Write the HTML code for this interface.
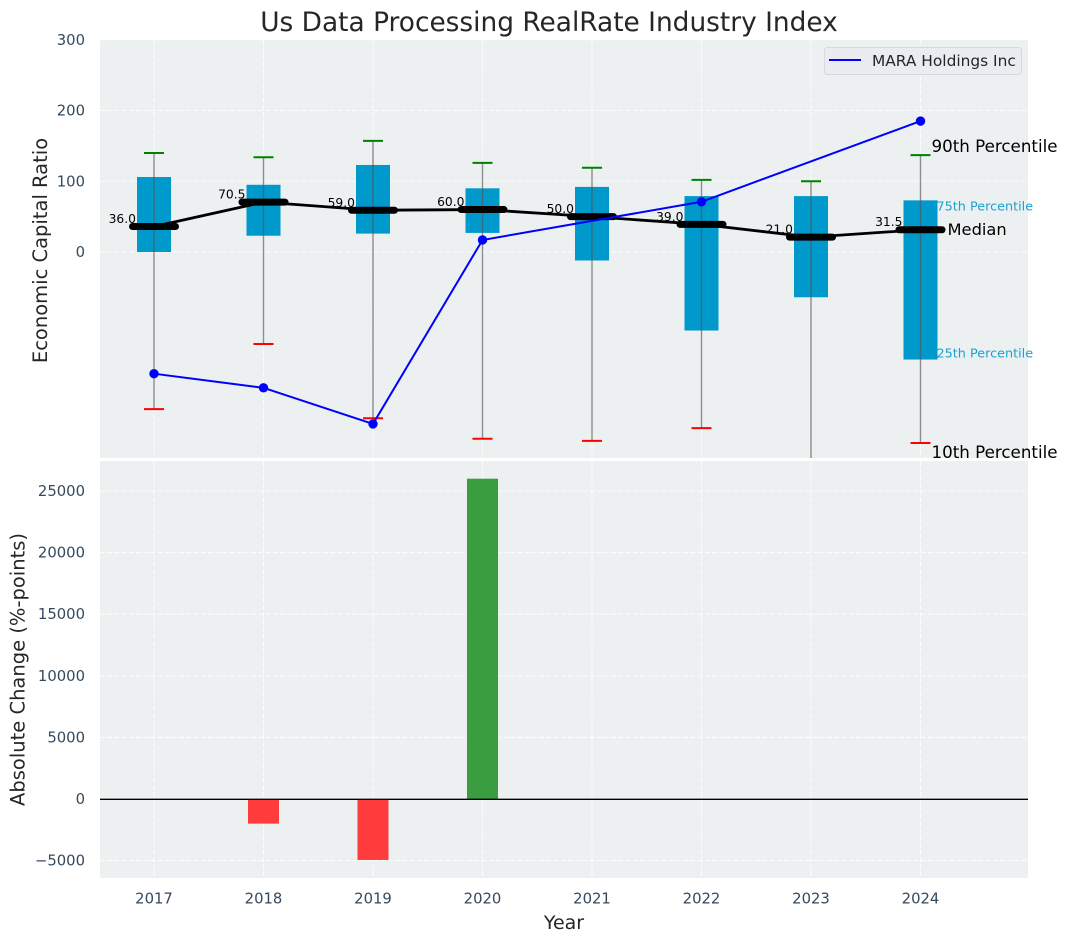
<!DOCTYPE html>
<html>
<head>
<meta charset="utf-8">
<title>Us Data Processing RealRate Industry Index</title>
<style>
html,body{margin:0;padding:0;background:#fff;}
svg{display:block;font-family:"DejaVu Sans","Liberation Sans",sans-serif;}
</style>
</head>
<body>
<svg id="chart" xmlns="http://www.w3.org/2000/svg" width="1067" height="942" viewBox="0 0 1067 942">
  <defs><clipPath id="top-clip"><rect x="100" y="40" width="928" height="418"></rect></clipPath></defs>
</svg>
<script>
const years = [2017, 2018, 2019, 2020, 2021, 2022, 2023, 2024];
const p90 = [140, 134, 157, 126, 119, 102, 100, 137];
const p75 = [106, 95, 123, 90, 92, 79, 79, 73];
const medians = [36, 70.5, 59, 60, 50, 39, 21, 31.5];
const p25 = [0, 23, 26, 27, -12, -111, -64, -152];
const p10 = [-222, -130, -235, -264, -267, -249, -330, -270];
const company = [-172, -192, -243, 17, null, 71, null, 185];
const changes = [null, -2000, -4950, 26000, null, null, null, null];
const topTicks = [0, 100, 200, 300];
const bottomTicks = [-5000, 0, 5000, 10000, 15000, 20000, 25000];

const svg = document.getElementById('chart');
const NS = 'http://www.w3.org/2000/svg';
const xPos = yr => 154 + (yr - 2017) * 109.5;
const yTop = v => 252 - v * 0.7075;
const yBottom = v => 799 - v * 0.01232;

function make(tag, attrs, parent) {
  const el = document.createElementNS(NS, tag);
  for (const k in attrs) el.setAttribute(k, attrs[k]);
  (parent || svg).appendChild(el);
  return el;
}
function label(str, attrs, parent) {
  const el = make('text', attrs, parent);
  el.textContent = str;
  return el;
}

// axes backgrounds
const topBg = make('rect', {x: 100, y: 40, width: 928, height: 418, fill: '#ecf0f1'});


const bottomBg = make('rect', {x: 100, y: 461, width: 928, height: 417, fill: '#ecf0f1'});



// grid
const gridStyle = {stroke: '#ffffff', 'stroke-width': 1.1, 'stroke-dasharray': '5 2.2', 'stroke-opacity': 0.8};
years.forEach(yr => {
  const g1 = make('line', Object.assign({x1: xPos(yr), x2: xPos(yr), y1: 40, y2: 458}, gridStyle));
  
  
  const g2 = make('line', Object.assign({x1: xPos(yr), x2: xPos(yr), y1: 461, y2: 878}, gridStyle));
  
  
});
topTicks.forEach(t => {
  const g = make('line', Object.assign({x1: 100, x2: 1028, y1: yTop(t), y2: yTop(t)}, gridStyle));
  
  
  const lab = label(String(t), {x: 85, y: yTop(t) + 5, 'text-anchor': 'end', 'font-size': 14.8, fill: '#34495e'});
  
  
});
bottomTicks.forEach(t => {
  const g = make('line', Object.assign({x1: 100, x2: 1028, y1: yBottom(t), y2: yBottom(t)}, gridStyle));
  
  
  const lab = label(String(t).replace('-', '\u2212'), {x: 85, y: yBottom(t) + 5, 'text-anchor': 'end', 'font-size': 14.8, fill: '#34495e'});
  
  
});
years.forEach(yr => {
  const lab = label(String(yr), {x: xPos(yr), y: 903.5, 'text-anchor': 'middle', 'font-size': 14.8, fill: '#34495e'});
  
  
});

// top chart marks, clipped to the axes
const plot = make('g', {'clip-path': 'url(#top-clip)'});



years.forEach((yr, i) => {
  const x = xPos(yr);
  const box = make('rect', {x: x - 17, y: yTop(p75[i]), width: 34, height: yTop(p25[i]) - yTop(p75[i]), fill: '#0099cc', 'fill-opacity': 1}, plot);
  
  
  const whisker = make('line', {x1: x, x2: x, y1: yTop(p90[i]), y2: yTop(p10[i]), stroke: '#555555', 'stroke-opacity': 0.65, 'stroke-width': 1.4}, plot);
  
  
  const capHigh = make('line', {x1: x - 10, x2: x + 10, y1: yTop(p90[i]), y2: yTop(p90[i]), stroke: '#008000', 'stroke-width': 2}, plot);
  
  
  const capLow = make('line', {x1: x - 10, x2: x + 10, y1: yTop(p10[i]), y2: yTop(p10[i]), stroke: '#ff0000', 'stroke-width': 2}, plot);
  
  
});

const medianPath = make('polyline', {
  points: years.map((yr, i) => xPos(yr) + ',' + yTop(medians[i])).join(' '),
  fill: 'none', stroke: '#000000', 'stroke-width': 2.8
}, plot);



years.forEach((yr, i) => {
  const x = xPos(yr);
  const bar = make('line', {x1: x - 21.5, x2: x + 21.5, y1: yTop(medians[i]), y2: yTop(medians[i]), stroke: '#000000', 'stroke-width': 7, 'stroke-linecap': 'round'}, plot);
  
  
});

const companyYears = years.filter((yr, i) => company[i] !== null);
const companyValues = company.filter(v => v !== null);
const companyLine = make('polyline', {
  points: companyYears.map((yr, i) => xPos(yr) + ',' + yTop(companyValues[i])).join(' '),
  fill: 'none', stroke: '#0000ff', 'stroke-width': 2
}, plot);


companyYears.forEach((yr, i) => {
  const dot = make('circle', {cx: xPos(yr), cy: yTop(companyValues[i]), r: 4.7, fill: '#0000ff'}, plot);
  
  
});

// median value labels
years.forEach((yr, i) => {
  const lab = label(medians[i].toFixed(1), {x: xPos(yr) - 18, y: yTop(medians[i]) - 3.5, 'text-anchor': 'end', 'font-size': 12.3, fill: '#000000'});
  
  
});

// percentile annotations, anchored to the last year
const last = years.length - 1;
const lastX = xPos(years[last]);
const ann90 = label('90th Percentile', {x: lastX + 11, y: yTop(p90[last]) - 3, 'font-size': 16.7, fill: '#000000'});


const ann75 = label('75th Percentile', {x: lastX + 16, y: yTop(p75[last]) + 10, 'font-size': 12.8, fill: '#0099cc', 'fill-opacity': 0.9});


const annMed = label('Median', {x: lastX + 27, y: yTop(medians[last]) + 5.5, 'font-size': 16.3, fill: '#000000'});


const ann25 = label('25th Percentile', {x: lastX + 16, y: yTop(p25[last]) - 2, 'font-size': 12.8, fill: '#0099cc', 'fill-opacity': 0.9});


const ann10 = label('10th Percentile', {x: lastX + 11, y: yTop(p10[last]) + 15, 'font-size': 16.7, fill: '#000000'});



// bottom chart bars
years.forEach((yr, i) => {
  if (changes[i] === null) return;
  const v = changes[i];
  const y0 = yBottom(Math.max(v, 0));
  const y1 = yBottom(Math.min(v, 0));
  const bar = make('rect', {x: xPos(yr) - 15.5, y: y0, width: 31, height: y1 - y0, fill: v >= 0 ? '#3a9d3f' : '#ff3c3c'});
  
  
});
const zero = make('line', {x1: 100, x2: 1028, y1: yBottom(0) + 0.3, y2: yBottom(0) + 0.3, stroke: '#000000', 'stroke-width': 1.4});



// legend
const legend = make('g', {});


const legendBox = make('rect', {x: 824.5, y: 47.5, width: 197, height: 27, rx: 3, fill: '#eaecf1', stroke: '#d5d8dc', 'stroke-width': 1}, legend);


const legendLine = make('line', {x1: 829, x2: 861, y1: 60, y2: 60, stroke: '#0000ff', 'stroke-width': 2}, legend);


const legendText = label('MARA Holdings Inc', {x: 872, y: 66, 'font-size': 15.4, fill: '#262626'}, legend);



// titles
const title = label('Us Data Processing RealRate Industry Index', {x: 549, y: 31, 'text-anchor': 'middle', 'font-size': 26.4, fill: '#262626'});


const xTitle = label('Year', {x: 564, y: 929, 'text-anchor': 'middle', 'font-size': 19, fill: '#262626'});


const yTitle1 = label('Economic Capital Ratio', {x: 0, y: 0, 'text-anchor': 'middle', 'font-size': 19.5, fill: '#262626', transform: 'translate(47,250.5) rotate(-90)'});


const yTitle2 = label('Absolute Change (%-points)', {x: 0, y: 0, 'text-anchor': 'middle', 'font-size': 19.5, fill: '#262626', transform: 'translate(24.5,669.5) rotate(-90)'});


</script>
</body>
</html>
